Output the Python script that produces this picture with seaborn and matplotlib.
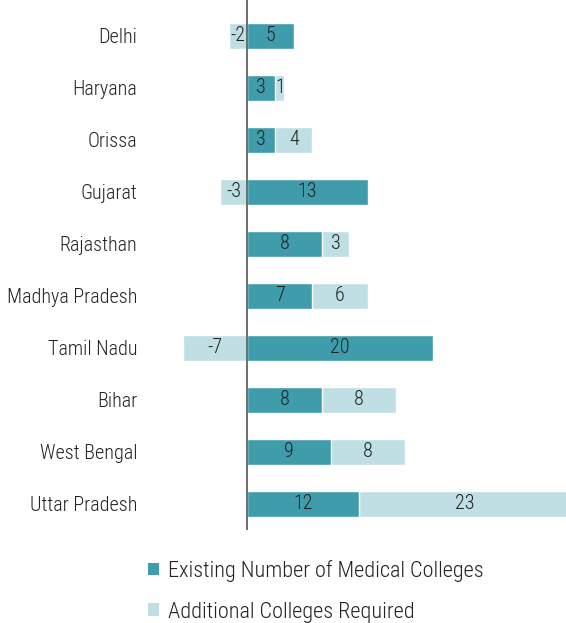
import numpy as np
import pandas as pd
import matplotlib
matplotlib.use("Agg")
import matplotlib.pyplot as plt
import seaborn as sns
from matplotlib.patches import Patch

states = ["Delhi", "Haryana", "Orissa", "Gujarat", "Rajasthan", "Madhya Pradesh",
          "Tamil Nadu", "Bihar", "West Bengal", "Uttar Pradesh"]
existing = [5, 3, 3, 13, 8, 7, 20, 8, 9, 12]
additional = [-2, 1, 4, -3, 3, 6, -7, 8, 8, 23]

dark = "#3f9dab"
light = "#bfdfe4"
txt = "#222222"

sns.set_theme(style="white")
plt.rcParams["font.family"] = ["Roboto Condensed", "Archivo Narrow", "DejaVu Sans"]
plt.rcParams["font.weight"] = "light"

ex = np.array(existing)
ad = np.array(additional)
# light segment: stacked after existing when positive, left of zero when negative
light_end = np.where(ad > 0, ex + ad, ad)
df = pd.DataFrame({"state": states, "existing": ex, "light": light_end})

fig = plt.figure(figsize=(5.66, 6.23), dpi=100)
ax = fig.add_axes([140 / 566, 1 - 530 / 623, 1 - 140 / 566, 530 / 623])

sns.barplot(data=df, y="state", x="light", color=light, width=0.5, saturation=1,
            edgecolor="white", linewidth=1, ax=ax)
sns.barplot(data=df, y="state", x="existing", color=dark, width=0.5, saturation=1,
            edgecolor="white", linewidth=1, ax=ax)

for i in range(len(states)):
    ax.text(ex[i] / 2, i, str(ex[i]), ha="center", va="center", color=txt, fontsize=14.5)
    xc = ex[i] + ad[i] / 2 if ad[i] > 0 else ad[i] / 2
    ax.text(xc, i, str(ad[i]), ha="center", va="center", color=txt, fontsize=14.5)

ax.set_xlim(-11.6, 34.4)
ax.set_ylim(9.5, -0.69)
ax.axvline(0, color="#555555", lw=1.2)
ax.set_xticks([])
ax.set_xlabel("")
ax.set_ylabel("")
ax.tick_params(axis="y", length=0, labelsize=14.5, labelcolor=txt, pad=2)
for s in ax.spines.values():
    s.set_visible(False)

handles = [Patch(facecolor=dark, edgecolor="none"), Patch(facecolor=light, edgecolor="none")]
fig.legend(handles, ["Existing Number of Medical Colleges", "Additional Colleges Required"],
           loc="upper left", bbox_to_anchor=(128 / 566, 1 - 540 / 623), frameon=False,
           fontsize=16, handlelength=0.5, handleheight=0.5, handletextpad=0.4,
           labelspacing=0.88, labelcolor=txt)

fig.savefig("out.png", dpi=100)
